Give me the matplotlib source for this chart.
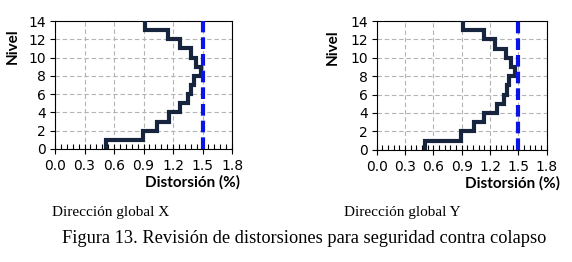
import matplotlib
matplotlib.use("Agg")
import matplotlib.pyplot as plt
from matplotlib.ticker import MultipleLocator

levels = list(range(0, 15))
drift_x = [0.52, 0.89, 1.04, 1.16, 1.27, 1.35, 1.38, 1.41, 1.48, 1.43, 1.38, 1.27, 1.15, 0.92]
drift_y = [0.51, 0.89, 1.03, 1.14, 1.27, 1.35, 1.38, 1.40, 1.46, 1.42, 1.37, 1.25, 1.14, 0.91]
limit = 1.5
x_ticks = [0.0, 0.3, 0.6, 0.9, 1.2, 1.5, 1.8]
y_ticks = [0, 2, 4, 6, 8, 10, 12, 14]
titles = ["Dirección global X", "Dirección global Y"]
caption = "Figura 13. Revisión de distorsiones para seguridad contra colapso"

fig = plt.figure(figsize=(5.72, 2.62), dpi=100)
positions = [[0.0962, 0.4313, 0.3094, 0.4885], [0.6586, 0.4286, 0.2972, 0.491]]
xlabel_x = [1.045, 1.078]
ylabel_x = [-0.237, -0.257]
line_color = "#16253d"

for pos, drift, xlx, ylx in zip(positions, [drift_x, drift_y], xlabel_x, ylabel_x):
    ax = fig.add_axes(pos)
    xs, ys = [], []
    for i, d in enumerate(drift):
        xs += [d, d]
        ys += [levels[i], levels[i + 1]]
    ax.plot(xs, ys, color=line_color, lw=3.0, clip_on=False, zorder=3,
            solid_joinstyle="miter", solid_capstyle="butt")
    ax.plot([limit, limit], [0, 14], color="#0a14e6", lw=3.0, ls=(0, (2.8, 1.2)), zorder=4)
    ax.set_xlim(0, 1.8)
    ax.set_ylim(0, 14)
    ax.set_xticks(x_ticks)
    ax.set_xticklabels([f"{v:.1f}" for v in x_ticks], fontsize=10)
    ax.set_yticks(y_ticks)
    ax.set_yticklabels([str(v) for v in y_ticks], fontsize=10)
    ax.xaxis.set_minor_locator(MultipleLocator(0.06))
    ax.tick_params(axis="x", which="major", direction="inout", length=7, width=0.8, pad=4)
    ax.tick_params(axis="x", which="minor", direction="in", length=3.5, width=0.8)
    ax.tick_params(axis="y", which="major", direction="out", length=3.5, width=0.8, pad=3)
    ax.grid(True, which="major", color="#b4b4b4", ls=(0, (4, 2.5)), lw=0.8)
    for s in ax.spines.values():
        s.set_linewidth(0.8)
    ax.set_xlabel("Distorsión (%)", fontsize=11, fontweight="bold", family="Lato", ha="right")
    ax.xaxis.set_label_coords(xlx, -0.205)
    ax.set_ylabel("Nivel", fontsize=11, fontweight="bold", family="Lato", va="center")
    ax.yaxis.set_label_coords(ylx, 0.80)

fig.text(0.091, 0.19, titles[0], fontsize=11, family="Liberation Serif", va="center")
fig.text(0.602, 0.19, titles[1], fontsize=11, family="Liberation Serif", va="center")
fig.text(0.108, 0.09, caption, fontsize=13.2, family="Liberation Serif", va="center")

fig.savefig("out.png", dpi=100)
